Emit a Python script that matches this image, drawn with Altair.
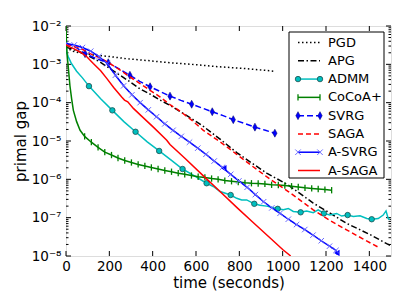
import altair as alt
import pandas as pd

FONT = "DejaVu Sans"

series_names = ["PGD", "APG", "ADMM", "CoCoA+", "SVRG", "SAGA", "A-SVRG", "A-SAGA"]

# ---------------- data ----------------
pgd_t = [0, 30, 80, 126, 200, 280, 380, 480, 600, 700, 820, 941, 960]
pgd_v = [2.8e-3, 2.2e-3, 1.9e-3, 1.75e-3, 1.6e-3, 1.4e-3, 1.25e-3, 1.1e-3, 9.8e-4, 8.7e-4, 7.8e-4, 6.8e-4, 6.6e-4]

apg_t = [0, 30, 65, 110, 157, 200, 249, 295, 341, 390, 434, 480, 518, 575, 634, 711, 788, 860, 926,
         1026, 1141, 1220, 1295, 1400, 1480, 1500]
apg_v = [2.8e-3, 2.5e-3, 2.1e-3, 1.6e-3, 1.15e-3, 7.9e-4, 5.2e-4, 3.5e-4, 2.3e-4, 1.65e-4, 1.17e-4,
         8.5e-5, 6.3e-5, 4.0e-5, 2.4e-5, 1.12e-5, 5.0e-6, 2.6e-6, 1.45e-6, 7.1e-7, 2.4e-7, 1.3e-7,
         7.1e-8, 3.7e-8, 2.1e-8, 1.85e-8]

admm_t = [0, 3, 11, 25, 49, 75, 106, 160, 214, 267, 321, 375, 430, 484, 538, 587, 649, 680, 711, 760,
          788, 811, 834, 869, 895, 926, 977, 1003, 1026, 1049, 1083, 1111, 1141, 1164, 1190, 1218,
          1249, 1272, 1300, 1326, 1357, 1388, 1411, 1441, 1464, 1477, 1487, 1495]
admm_v = [3.16e-3, 2.1e-3, 1.55e-3, 1.05e-3, 6.6e-4, 4.5e-4, 2.7e-4, 1.26e-4, 6.3e-5, 3.2e-5, 1.74e-5,
          9.5e-6, 5.5e-6, 3.2e-6, 1.86e-6, 1.29e-6, 7.9e-7, 6.5e-7, 4.8e-7, 3.9e-7, 3.2e-7, 2.9e-7,
          2.9e-7, 2.3e-7, 2.1e-7, 2.0e-7, 1.7e-7, 1.6e-7, 1.74e-7, 1.45e-7, 1.38e-7, 1.5e-7, 1.35e-7,
          1.6e-7, 1.29e-7, 1.17e-7, 1.29e-7, 1.1e-7, 1.17e-7, 1.07e-7, 1.12e-7, 9.5e-8, 9.1e-8, 9.5e-8,
          1.17e-7, 1.5e-7, 9.5e-8, 8.9e-8]
admm_marks = [106, 214, 321, 430, 538, 649, 760, 869, 977, 1083, 1190, 1300, 1411]

cocoa_t = [0, 2, 5, 11, 18, 26, 34, 49, 65,
           86, 117, 148, 179, 210, 240, 271, 302, 333, 364, 394, 425, 456, 487, 518, 548, 579, 610,
           641, 672, 702, 733, 764, 795, 826, 856, 887, 918, 949, 980, 1010, 1041, 1072, 1103, 1134,
           1164, 1195, 1226]
cocoa_v = [1.0e-2, 4.0e-3, 1.8e-3, 7.9e-4, 2.8e-4, 1.26e-4, 6.3e-5, 3.2e-5, 1.9e-5,
           1.32e-5, 9.3e-6, 6.8e-6, 5.1e-6, 4.3e-6, 3.6e-6, 3.1e-6, 2.75e-6, 2.45e-6, 2.24e-6,
           2.04e-6, 1.86e-6, 1.7e-6, 1.58e-6, 1.45e-6, 1.35e-6, 1.26e-6, 1.17e-6, 1.12e-6, 1.05e-6,
           1.0e-6, 9.3e-7, 8.9e-7, 8.5e-7, 8.1e-7, 7.9e-7, 7.8e-7, 7.6e-7, 7.2e-7, 7.1e-7, 6.9e-7,
           6.6e-7, 6.3e-7, 6.0e-7, 5.8e-7, 5.6e-7, 5.4e-7, 5.2e-7]
cocoa_marks = cocoa_t[9:]

svrg_t = [0, 20, 45, 88, 140, 195, 245, 295, 340, 388, 435, 480, 530, 580, 630, 675, 725, 772, 822,
          872, 920, 964]
svrg_v = [3.5e-3, 3.2e-3, 2.8e-3, 1.9e-3, 1.4e-3, 1.1e-3, 7.6e-4, 5.2e-4, 3.6e-4, 2.6e-4, 1.95e-4,
          1.48e-4, 1.15e-4, 9.1e-5, 7.2e-5, 5.8e-5, 4.6e-5, 3.6e-5, 2.9e-5, 2.3e-5, 1.9e-5, 1.6e-5]
svrg_marks = [88, 195, 295, 388, 480, 580, 675, 772, 872, 964]

saga_t = [0, 18, 50, 80, 111, 160, 203, 250, 295, 340, 388, 435, 480, 526, 580, 634, 711, 788, 860,
          926, 1026, 1141, 1220, 1295, 1370, 1441]
saga_v = [3.3e-3, 3.2e-3, 2.8e-3, 2.4e-3, 1.9e-3, 1.45e-3, 1.05e-3, 7.1e-4, 4.7e-4, 3.2e-4, 2.1e-4,
          1.4e-4, 8.9e-5, 6.0e-5, 3.5e-5, 1.9e-5, 9.5e-6, 4.5e-6, 2.2e-6, 1.17e-6, 4.8e-7, 1.6e-7,
          8.3e-8, 4.8e-8, 2.8e-8, 1.7e-8]

asvrg_t = [0, 38, 76, 114, 152, 190, 228, 266, 304, 342, 380, 418, 456, 494, 532, 570, 608, 646, 684,
           722, 760, 798, 836, 874, 912, 950, 988, 1026, 1064, 1102, 1140, 1178, 1216, 1246, 1250]
asvrg_v = [3.5e-3, 3.2e-3, 2.75e-3, 2.2e-3, 1.6e-3, 1.05e-3, 5.2e-4, 2.75e-4, 1.6e-4, 1.0e-4, 6.5e-5,
           4.3e-5, 2.8e-5, 1.9e-5, 1.32e-5, 9.3e-6, 6.5e-6, 4.5e-6, 3.0e-6, 2.05e-6, 1.35e-6, 9.1e-7,
           6.2e-7, 4.0e-7, 2.6e-7, 1.8e-7, 1.3e-7, 9.1e-8, 6.6e-8, 4.9e-8, 3.5e-8, 2.5e-8, 1.8e-8,
           1.4e-8, 1.1e-8]
asvrg_marks = asvrg_t[:-1]
asvrg_glitch_t = [728, 1250]
asvrg_glitch_v = [1.95e-6, 1.2e-8]

asaga_t = [0, 20, 40, 65, 95, 126, 160, 188, 220, 257, 270, 285, 311, 350, 403, 465, 480, 550, 634,
           700, 788, 860, 941, 1000, 1037]
asaga_v = [3.2e-3, 2.8e-3, 2.5e-3, 2.1e-3, 1.6e-3, 1.05e-3, 6.8e-4, 4.3e-4, 2.5e-4, 1.4e-4, 1.17e-4,
           1.05e-4, 7.1e-5, 4.4e-5, 2.3e-5, 1.05e-5, 8.1e-6, 3.5e-6, 1.23e-6, 5.5e-7, 1.86e-7, 7.8e-8,
           3.0e-8, 1.48e-8, 1.0e-8]

x_ticks = [0, 200, 400, 600, 800, 1000, 1200, 1400]
y_ticks = [1e-2, 1e-3, 1e-4, 1e-5, 1e-6, 1e-7, 1e-8]
y_minor = [m * d for d in [1e-8, 1e-7, 1e-6, 1e-5, 1e-4, 1e-3] for m in range(2, 10)]

series_data = {
    "PGD": (pgd_t, pgd_v),
    "APG": (apg_t, apg_v),
    "ADMM": (admm_t, admm_v),
    "CoCoA+": (cocoa_t, cocoa_v),
    "SVRG": (svrg_t, svrg_v),
    "SAGA": (saga_t, saga_v),
    "A-SVRG": (asvrg_t, asvrg_v),
    "A-SAGA": (asaga_t, asaga_v),
}
series_marks = {"ADMM": admm_marks, "CoCoA+": cocoa_marks, "SVRG": svrg_marks, "A-SVRG": asvrg_marks}

# ---------------- styles ----------------
THIN_DIAMOND = "M0,-1L0.55,0L0,1L-0.55,0Z"
XMARK = "M-1,-1L1,1M-1,1L1,-1"
VBAR = "M0,-1L0,1"
style = {
    "PGD": dict(color="#000000", dash=[1.5, 2.5]),
    "APG": dict(color="#000000", dash=[6, 2.5, 1.5, 2.5]),
    "ADMM": dict(color="#00bfbf", dash=None,
                 marker=dict(shape="circle", size=30, filled=True, fill="#00bfbf", stroke="#1d4f4f", sw=0.8)),
    "CoCoA+": dict(color="#008000", dash=None,
                   marker=dict(shape=VBAR, size=40, filled=False, stroke="#008000", sw=1.3)),
    "SVRG": dict(color="#0000ff", dash=[6, 3],
                 marker=dict(shape=THIN_DIAMOND, size=64, filled=True, fill="#0000ff", stroke="#000060", sw=0.5)),
    "SAGA": dict(color="#ff0000", dash=[5, 3]),
    "A-SVRG": dict(color="#0000ff", dash=None,
                   marker=dict(shape=XMARK, size=30, filled=False, stroke="#6a6aff", sw=1.0)),
    "A-SAGA": dict(color="#ff0000", dash=None),
}

rows = []
for name, (ts, vs) in series_data.items():
    for i, (t, v) in enumerate(zip(ts, vs)):
        rows.append({"series": name, "t": t, "v": v, "i": i})
df = pd.DataFrame(rows)

W, H = 325, 230

x_enc = alt.X("t:Q", scale=alt.Scale(domain=[0, 1500], nice=False, zero=False),
              axis=alt.Axis(values=x_ticks, format="d", ticks=False, domain=False, grid=False, labelFlush=False,
                            labelFont=FONT, labelFontSize=13.5, labelColor="black", labelPadding=3,
                            title="time (seconds)", titleFont=FONT, titleFontSize=15,
                            titleFontWeight="normal", titleColor="black", titlePadding=3))
y_enc = alt.Y("v:Q", scale=alt.Scale(type="log", domain=[1e-8, 1e-2], nice=False),
              axis=alt.Axis(values=y_ticks, ticks=False, domain=False, grid=False,
                            labelExpr="'10\u207b' + ['\u2070','\u00b9','\u00b2','\u00b3','\u2074','\u2075','\u2076','\u2077','\u2078','\u2079'][round(-log(datum.value)/LN10)]",
                            labelFont=FONT, labelFontSize=13.5, labelColor="black", labelPadding=5,
                            labelBaseline="middle",
                            title="primal gap", titleFont=FONT, titleFontSize=15,
                            titleFontWeight="normal", titleColor="black", titlePadding=3))

layers = []

# inward ticks on all four sides
ymaj = pd.DataFrame({"v": y_ticks})
ymin = pd.DataFrame({"v": y_minor})
xmaj = pd.DataFrame({"t": x_ticks})
for d, a, b in [(ymaj, 0, 5), (ymaj, W, W - 5), (ymin, 0, 2.5), (ymin, W, W - 2.5)]:
    layers.append(alt.Chart(d).mark_rule(color="black", strokeWidth=1).encode(
        y=y_enc, x=alt.value(a), x2=alt.value(b)))
for a, b in [(H, H - 5), (0, 5)]:
    layers.append(alt.Chart(xmaj).mark_rule(color="black", strokeWidth=1).encode(
        x=x_enc, y=alt.value(a), y2=alt.value(b)))

# series lines then markers
for name in series_names:
    st = style[name]
    d = df[df.series == name]
    kw = dict(color=st["color"], strokeWidth=1.5, clip=True)
    if st["dash"]:
        kw["strokeDash"] = st["dash"]
    layers.append(alt.Chart(d).mark_line(**kw).encode(x=x_enc, y=y_enc, order="i:Q"))
    if name == "A-SVRG":
        g = pd.DataFrame({"t": asvrg_glitch_t, "v": asvrg_glitch_v})
        layers.append(alt.Chart(g).mark_point(shape="triangle-left", size=40, filled=True,
                                              color="#0000ff", opacity=1, clip=True).encode(x=x_enc, y=y_enc))
    if "marker" in st:
        m = st["marker"]
        dm = d[d.t.isin(series_marks[name])]
        mk = dict(shape=m["shape"], size=m["size"], filled=m["filled"], opacity=1,
                  strokeWidth=m["sw"], stroke=m["stroke"], clip=True)
        if m["filled"]:
            mk["fill"] = m["fill"]
        layers.append(alt.Chart(dm).mark_point(**mk).encode(x=x_enc, y=y_enc))

data_layer = alt.layer(*layers)

# ---------------- legend ----------------
leg = pd.DataFrame({"series": series_names, "row": list(range(len(series_names)))})
row_enc = alt.Y("row:Q", scale=alt.Scale(domain=[0, 7], range=[16.5, 144.5]), axis=None)
leg_layers = [
    alt.Chart(pd.DataFrame({"k": [0]})).mark_rect(fill="white", stroke="black", strokeWidth=1).encode(
        x=alt.value(223), x2=alt.value(318), y=alt.value(6), y2=alt.value(152))
]
for name in series_names:
    st = style[name]
    d = leg[leg.series == name]
    kw = dict(color=st["color"], strokeWidth=1.5)
    if st["dash"]:
        kw["strokeDash"] = st["dash"]
    leg_layers.append(alt.Chart(d).mark_rule(**kw).encode(y=row_enc, x=alt.value(232), x2=alt.value(254)))
    if "marker" in st:
        m = st["marker"]
        mk = dict(shape=m["shape"], size=m["size"], filled=m["filled"], opacity=1,
                  strokeWidth=m["sw"], stroke=m["stroke"])
        if m["filled"]:
            mk["fill"] = m["fill"]
        for xx in (232, 254):
            leg_layers.append(alt.Chart(d).mark_point(**mk).encode(y=row_enc, x=alt.value(xx)))
leg_layers.append(alt.Chart(leg).mark_text(align="left", baseline="middle", font=FONT, fontSize=13,
                                           color="black").encode(y=row_enc, x=alt.value(262), text="series:N"))
legend_layer = alt.layer(*leg_layers)

chart = alt.layer(data_layer, legend_layer).resolve_scale(y="independent").properties(
    width=W, height=H,
    autosize=alt.AutoSizeParams(type="none"),
    padding={"left": 58, "top": 18, "right": 8, "bottom": 36},
).configure_view(stroke="black", strokeWidth=1).configure(background="white")

chart.save("out.html", embed_options={"renderer": "svg", "actions": False})
